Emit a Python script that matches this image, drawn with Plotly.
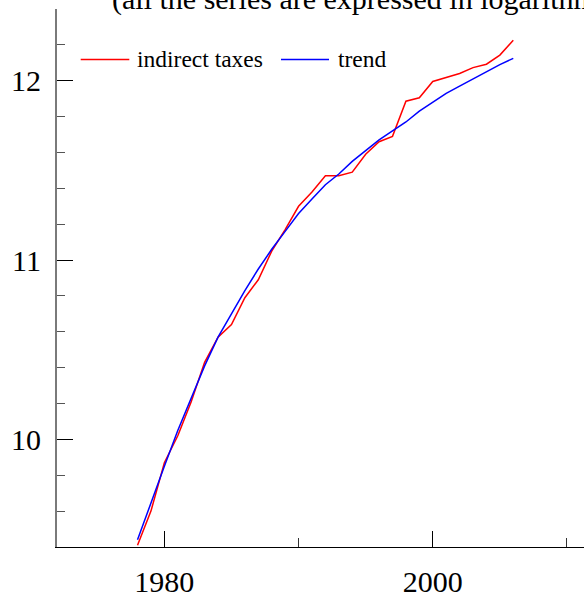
import plotly.graph_objects as go

# Annual observations, log scale values
years = list(range(1978, 2007))
indirect_taxes = [9.41, 9.60, 9.87, 10.02, 10.21, 10.43, 10.57, 10.64, 10.79, 10.89,
                  11.05, 11.17, 11.30, 11.38, 11.47, 11.47, 11.49, 11.59, 11.66, 11.69,
                  11.886, 11.905, 11.996, 12.018, 12.04, 12.073, 12.092, 12.143, 12.226]
trend = [9.44, 9.65, 9.85, 10.05, 10.23, 10.41, 10.57, 10.70, 10.83, 10.95,
         11.06, 11.16, 11.26, 11.34, 11.42, 11.48, 11.55, 11.61, 11.67, 11.72,
         11.77, 11.83, 11.88, 11.93, 11.97, 12.01, 12.05, 12.09, 12.125]

series_names = ["indirect taxes", "trend"]
series_colors = ["#ff0000", "#0000ff"]
title_text = "(all the series are expressed in logarithms)"

FONT = "Liberation Serif"
W, H = 584, 598
ML, MR, MT, MB = 57, 0, 9, 45
PW, PH = W - ML - MR, H - MT - MB

def px_x(px):
    return (px - ML) / PW

def px_y(py):
    return (H - MB - py) / PH

fig = go.Figure()
for name, vals, col in zip(series_names, [indirect_taxes, trend], series_colors):
    fig.add_trace(go.Scatter(x=years, y=vals, mode="lines", name=name,
                             line=dict(color=col, width=1.5), showlegend=False))

# Legend drawn as sample lines with labels
legend_y = px_y(60)
legend_items = [(80.7, 129.3, 135), (281, 329, 335.5)]
for (x0, x1, xt), name, col in zip(legend_items, series_names, series_colors):
    fig.add_shape(type="line", xref="paper", yref="paper",
                  x0=px_x(x0), x1=px_x(x1), y0=legend_y, y1=legend_y,
                  line=dict(color=col, width=1.5))
    fig.add_annotation(xref="paper", yref="paper", x=px_x(xt), y=legend_y,
                       xanchor="left", yanchor="middle", showarrow=False,
                       text=name, font=dict(family=FONT, size=23.5, color="black"))

fig.add_annotation(xref="paper", yref="paper", x=px_x(110), y=px_y(18),
                   xanchor="left", yanchor="bottom", showarrow=False,
                   text=title_text, font=dict(family=FONT, size=30, color="black"))

x0_year = 1972
x1_year = x0_year + PW / 13.42

fig.update_layout(
    width=W, height=H,
    margin=dict(l=ML, r=MR, t=MT, b=MB, pad=0),
    paper_bgcolor="white", plot_bgcolor="white",
    font=dict(family=FONT, size=30, color="black"),
    xaxis=dict(range=[x0_year, x1_year], tickmode="array", tickvals=[1980, 2000],
               ticks="inside", ticklen=16, tickwidth=1, tickcolor="black",
               showline=True, linecolor="black", linewidth=1,
               showgrid=False, zeroline=False, ticklabelstandoff=8,
               minor=dict(tickvals=[1990, 2010], ticks="inside", ticklen=9,
                          tickwidth=1, tickcolor="#333333", showgrid=False)),
    yaxis=dict(range=[9.4, 12.4], tickmode="array", tickvals=[10, 11, 12],
               ticks="inside", ticklen=16, tickwidth=1, tickcolor="black",
               showline=True, linecolor="#7a7a7a", linewidth=2,
               showgrid=False, zeroline=False, ticklabelstandoff=8,
               minor=dict(dtick=0.2, tick0=0, ticks="inside", ticklen=8,
                          tickwidth=1, tickcolor="#555555", showgrid=False)),
)

fig.write_html("out.html")
